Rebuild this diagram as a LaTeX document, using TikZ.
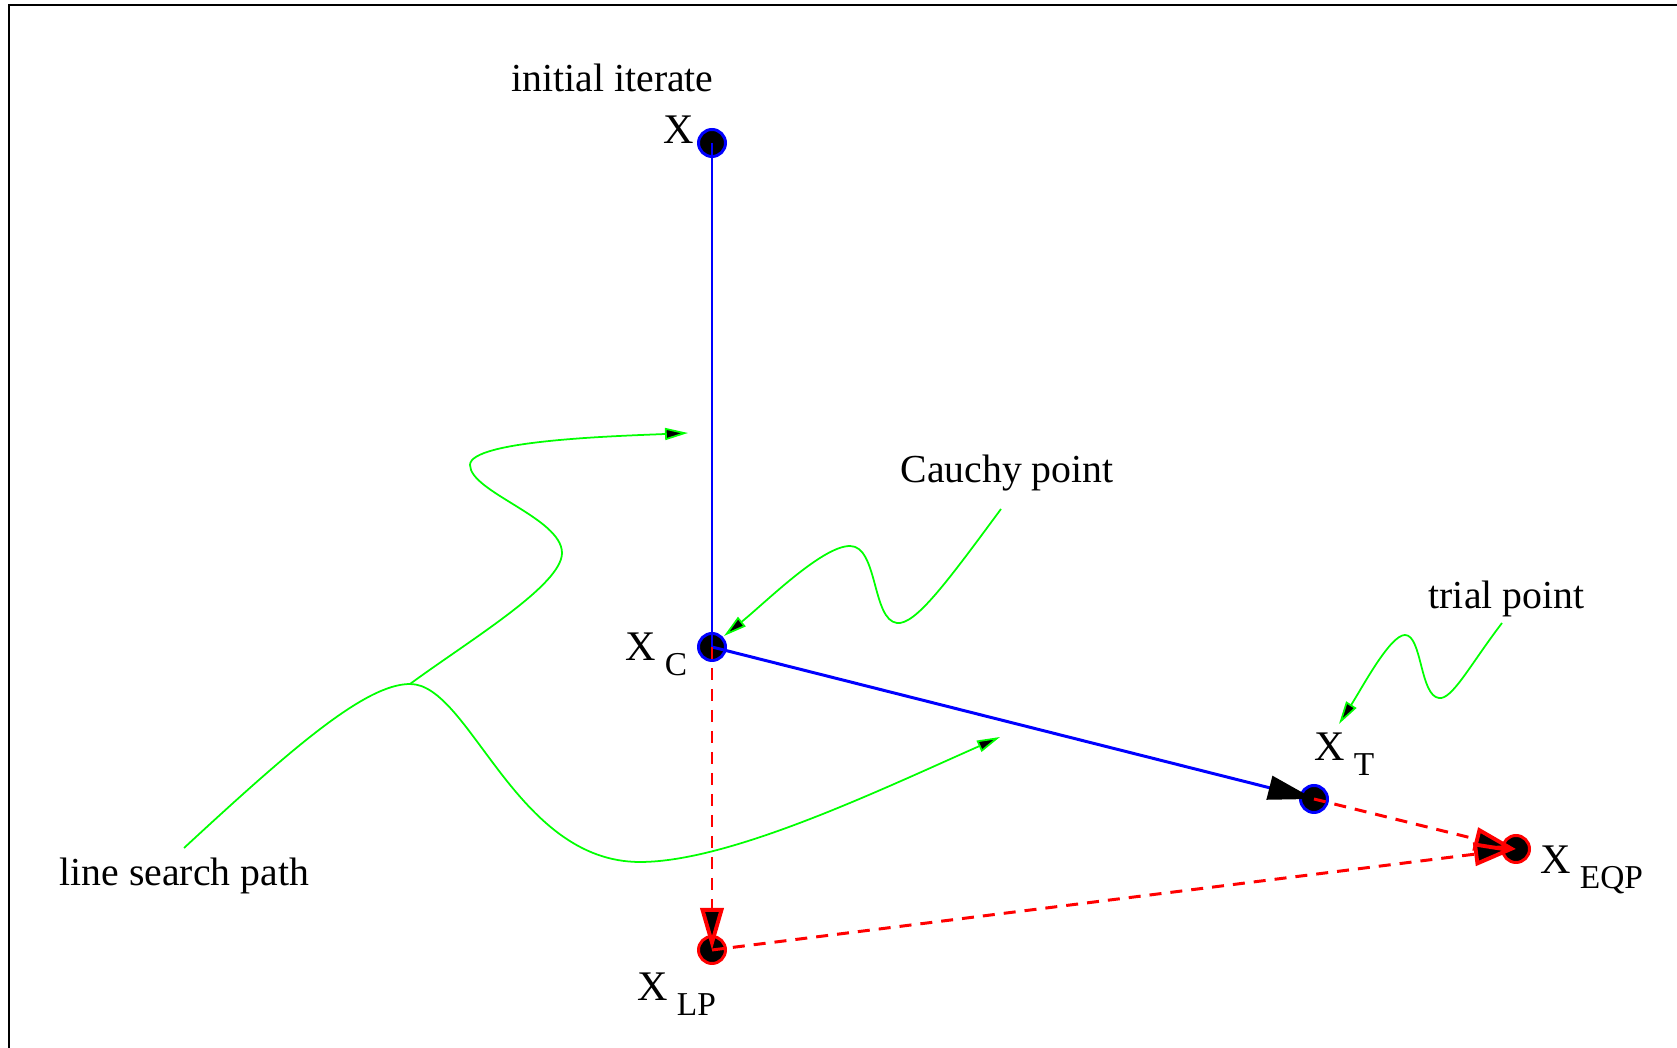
\documentclass[tikz,border=0pt]{standalone}
\usepackage{fontspec}
\setmainfont{Liberation Serif}
\usetikzlibrary{arrows.meta}

\newcommand{\xsub}[1]{X\hspace{2.5pt}\raisebox{-4pt}{\fontsize{9.5}{11}\selectfont #1}}

\begin{document}
\begin{tikzpicture}[
    x=0.1mm, y=-0.1mm,
    pt/.style={circle, draw=blue, fill=black, inner sep=0pt, minimum size=2.7mm, line width=0.85pt},
    lbl/.style={anchor=base west, inner sep=0pt, font=\fontsize{11.3}{13}\selectfont},
    xlbl/.style={anchor=base west, inner sep=0pt, font=\fontsize{12}{14}\selectfont},
    bluepath/.style={blue, line width=0.85pt},
    redpath/.style={red, line width=0.85pt, dash pattern=on 1.2mm off 0.9mm},
    bigtip/.style={-{Triangle[length=4.6mm, width=2.4mm, color=black]}},
    redtip/.style={-{Triangle[length=4.2mm, width=2.3mm, fill=black, line width=1.1pt]}},
    callout/.style={green, line width=0.5pt, -{Triangle[length=2.3mm, width=1.2mm, fill=black]}}
]
    \useasboundingbox (0,0) rectangle (1677,1048);
    \clip (0,0) rectangle (1677,1048);
    \draw[line width=0.7pt] (9,5) rectangle (1800,1200);

    % Points
    \node[pt] (x0) at (712,143) {};
    \node[pt] (xc) at (712,647) {};
    \node[pt] (xt) at (1314,799) {};
    \node[pt, draw=red] (xeqp) at (1516,849) {};
    \node[pt, draw=red] (xlp) at (712,950) {};

    % Labels
    \node[lbl] (init) at (511,92) {initial iterate};
    \node[lbl] (cauchy) at (900,483) {Cauchy point};
    \node[lbl] (trial) at (1428,609) {trial point};
    \node[lbl] (search) at (59,886) {line search path};
    \node[xlbl] (lx0) at (663,144) {X};
    \node[xlbl] (lxc) at (625,661) {\xsub{C}};
    \node[xlbl] (lxt) at (1314,761) {\xsub{T}};
    \node[xlbl] (lxeqp) at (1540,874) {\xsub{EQP}};
    \node[xlbl] (lxlp) at (637,1001) {\xsub{LP}};

    % Steps
    \draw[bluepath] (x0.center) -- (xc.center);
    \draw[bluepath, bigtip] (xc.center) -- (xt.center);
    \draw[redpath, redtip] (xc.center) -- (xlp.center);
    \draw[redpath, redtip] (xt.center) -- (xeqp.center);
    \draw[redpath, redtip] (xlp.center) -- (xeqp.center);

    % Callouts
    \coordinate (cstart) at (1001,509);
    \coordinate (cend) at (724,636);
    \coordinate (tstart) at (1502,623);
    \coordinate (tend) at (1339,724);
    \coordinate (sstart) at (184,848);
    \coordinate (sfork) at (410,684);
    \coordinate (send1) at (688,433);
    \coordinate (send2) at (1000,737);

    \draw[callout] (cstart) .. controls (945,585) and (915,625) .. (897,623)
        .. controls (872,620) and (878,546) .. (850,546)
        .. controls (822,546) and (765,603) .. (cend);
    \draw[callout] (tstart) .. controls (1470,665) and (1452,700) .. (1439,698)
        .. controls (1420,696) and (1422,635) .. (1405,635)
        .. controls (1390,635) and (1362,688) .. (tend);
    \draw[callout] (sstart) .. controls (290,750) and (365,684) .. (sfork)
        .. controls (470,684) and (515,862) .. (640,862)
        .. controls (730,862) and (880,790) .. (send2);
    \draw[callout] (sfork) .. controls (470,640) and (562,585) .. (562,553)
        .. controls (562,518) and (470,492) .. (470,465)
        .. controls (470,440) and (620,436) .. (send1);
\end{tikzpicture}
\end{document}
